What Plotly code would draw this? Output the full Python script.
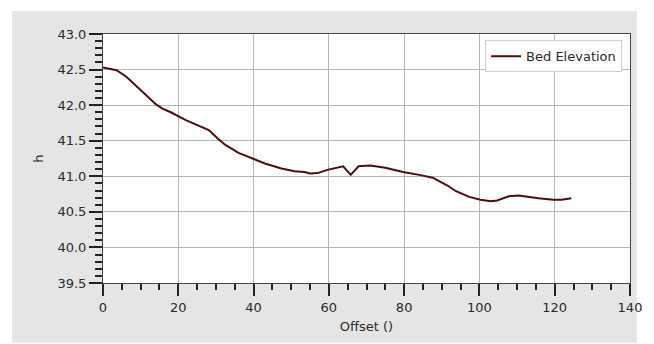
import plotly.graph_objects as go

offset = [0, 3.6, 6.2, 10.6, 14.1, 15.8, 18, 22, 25.5, 28.1, 30.7, 32.5, 36, 39.5, 43,
          47.4, 50.9, 53.5, 55, 57, 59.6, 63.8, 65.8, 67.9, 69.5, 71, 75, 79.7, 84, 87.6,
          89.4, 91.5, 93.8, 97.3, 100.3, 103, 104.7, 107.8, 110.4, 113, 115.7, 119.6, 121.8, 124.4]
bed = [42.53, 42.49, 42.40, 42.19, 42.01, 41.95, 41.90, 41.79, 41.71, 41.65, 41.52, 41.44,
       41.33, 41.25, 41.18, 41.11, 41.07, 41.06, 41.04, 41.045, 41.09, 41.14, 41.02, 41.14,
       41.14, 41.15, 41.12, 41.06, 41.02, 40.98, 40.93, 40.87, 40.79, 40.71, 40.67, 40.65,
       40.66, 40.72, 40.73, 40.71, 40.69, 40.67, 40.67, 40.69]
x_ticks = [0, 20, 40, 60, 80, 100, 120, 140]
y_ticks = [39.5, 40.0, 40.5, 41.0, 41.5, 42.0, 42.5, 43.0]

fig = go.Figure()
fig.add_trace(go.Scatter(x=offset, y=bed, mode="lines", name="Bed Elevation",
                         line=dict(color="#4e0d0d", width=2)))

W, H = 654, 344
ml, mr, mt, mb = 103, 18, 34, 60
pw, ph = W - ml - mr, H - mt - mb
def px(v): return (v - ml) / pw
def py(v): return (H - mb - v) / ph

fig.add_shape(type="rect", xref="paper", yref="paper", layer="below",
              x0=px(11), x1=px(643), y0=py(344), y1=py(11),
              fillcolor="#e5e5e5", line=dict(width=0))
fig.add_shape(type="rect", xref="paper", yref="paper", layer="below",
              x0=0, x1=1, y0=0, y1=1, fillcolor="white", line=dict(width=0))

FONT = dict(family="DejaVu Sans", size=13, color="#2a2a2a")
axis_common = dict(showline=True, linecolor="#444", linewidth=1, mirror=True,
                   showgrid=True, gridcolor="#b4b4b4", gridwidth=1, zeroline=False,
                   ticks="outside", tickcolor="#222", tickwidth=1.5,
                   tickfont=FONT)
fig.update_xaxes(range=[0, 140], tickvals=x_ticks, ticklen=12,
                 minor=dict(dtick=5, ticks="outside", ticklen=6, tickcolor="#222", showgrid=False),
                 title=dict(text="Offset ()", font=FONT, standoff=8),
                 **axis_common)
fig.update_yaxes(range=[39.5, 43.0], tickvals=y_ticks, ticktext=[f"{v:.1f}" for v in y_ticks],
                 ticklen=13,
                 minor=dict(dtick=0.1, ticks="outside", ticklen=7, tickcolor="#222", showgrid=False),
                 title=dict(text="h", font=FONT, standoff=10),
                 **axis_common)

fig.update_layout(width=W, height=H, margin=dict(l=ml, r=mr, t=mt, b=mb),
                  paper_bgcolor="white", plot_bgcolor="white",
                  showlegend=True,
                  legend=dict(x=0.985, y=0.975, xanchor="right", yanchor="top",
                              bgcolor="white", bordercolor="#d0d0d0", borderwidth=1,
                              font=FONT))

fig.write_html("out.html")
